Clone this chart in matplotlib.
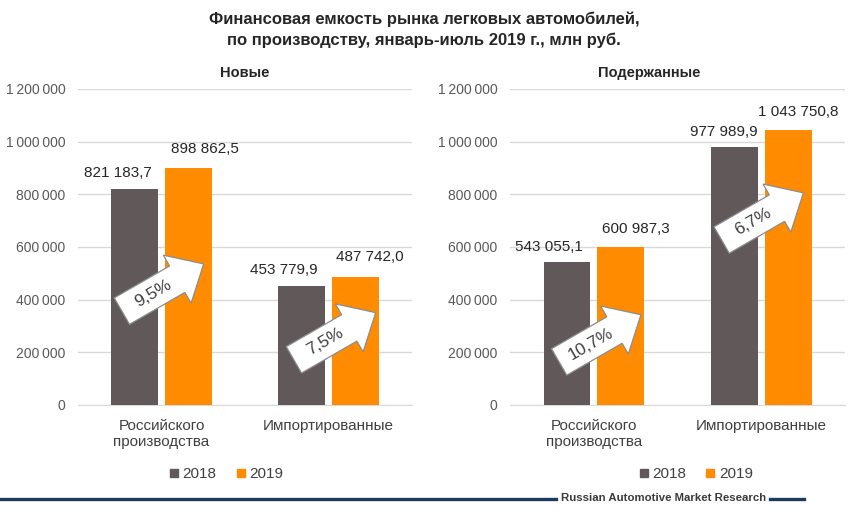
import matplotlib
matplotlib.use("Agg")
import matplotlib.pyplot as plt
import numpy as np
from matplotlib.transforms import Affine2D, ScaledTranslation
from matplotlib.patches import Polygon
from matplotlib.ticker import FuncFormatter
from matplotlib.lines import Line2D

plt.rcParams['font.family'] = ['Liberation Sans', 'DejaVu Sans']

# ---------------- data ----------------
title = "Финансовая емкость рынка легковых автомобилей,\nпо производству, январь-июль 2019 г., млн руб."
panels = ["Новые", "Подержанные"]
categories = ["Российского\nпроизводства", "Импортированные"]
series = ["2018", "2019"]
new_2018 = [821183.7, 453779.9]
new_2019 = [898862.5, 487742.0]
used_2018 = [543055.1, 977989.9]
used_2019 = [600987.3, 1043750.8]
new_growth = ["9,5%", "7,5%"]
used_growth = ["10,7%", "6,7%"]
yticks = [0, 200000, 400000, 600000, 800000, 1000000, 1200000]
footer = "Russian Automotive Market Research"

# ---------------- style ----------------
C18 = "#605859"
C19 = "#FF8C00"
TXT = "#404040"
GRID = "#d9d9d9"

W, H = 850, 509
fig = plt.figure(figsize=(W / 100, H / 100), dpi=100)

def fx(px):
    return px / W

def fy(py):
    return 1 - py / H

def fmt_num(v):
    return f"{v:,.1f}".replace(",", " ").replace(".", ",")

def fmt_tick(v, pos):
    return f"{int(v):,}".replace(",", "\u2009")

# value-label offsets (x in category units, y in points)
new_lbl_dx = [[-0.10, -0.11], [0.10, 0.085]]
new_lbl_dy = [11, 14]
used_lbl_dx = [[-0.11, -0.065], [0.09, 0.06]]
used_lbl_dy = [11, 13]

# arrow anchor positions (data coords)
new_arrow_pos = [(-0.05, 425000), (0.98, 240000)]
used_arrow_pos = [(-0.02, 232000), (0.95, 695000)]

def arrow(ax, x, y, label, angle=30):
    # block arrow shape in points, centred near the text
    tail, hb, tip = -28, 18, 40
    sh, hh = 11, 20
    pts = np.array([[tail, -sh], [hb, -sh], [hb, -hh], [tip, 0],
                    [hb, hh], [hb, sh], [tail, sh]])
    tr = (Affine2D().translate(2, 0).rotate_deg(angle).scale(fig.dpi / 72.0)
          + ScaledTranslation(x, y, ax.transData))
    poly = Polygon(pts, closed=True, transform=tr, facecolor="white",
                   edgecolor="#8c8c8c", lw=0.9, zorder=5, clip_on=False)
    ax.add_artist(poly)
    ax.text(x, y, label, rotation=angle, rotation_mode="anchor",
            ha="center", va="center", fontsize=12.5, color=TXT, zorder=6)

def make_panel(rect, v18, v19, lbl_dx, lbl_dy, growth, apos, leg_x):
    ax = fig.add_axes(rect)
    x = np.arange(len(categories))
    bw = 0.28
    off = 0.16
    ax.bar(x - off, v18, bw, color=C18, zorder=3, label=series[0])
    ax.bar(x + off, v19, bw, color=C19, zorder=3, label=series[1])
    ax.set_xlim(-0.5, 1.5)
    ax.set_ylim(0, 1200000)
    ax.set_yticks(yticks)
    ax.yaxis.set_major_formatter(FuncFormatter(fmt_tick))
    ax.grid(axis="y", color=GRID, lw=1, zorder=0)
    for s in ["top", "right", "left"]:
        ax.spines[s].set_visible(False)
    ax.spines["bottom"].set_color(GRID)
    ax.tick_params(axis="y", length=0, pad=9, labelsize=10, labelcolor="#595959")
    ax.tick_params(axis="x", length=0, pad=10, labelsize=11, labelcolor=TXT)
    ax.set_xticks(x)
    ax.set_xticklabels(categories)
    for i in range(len(categories)):
        ax.annotate(fmt_num(v18[i]), (x[i] - off + lbl_dx[0][i], v18[i]),
                    xytext=(0, lbl_dy[0]), textcoords="offset points",
                    ha="center", va="center", fontsize=11, color="#262626")
        ax.annotate(fmt_num(v19[i]), (x[i] + off + lbl_dx[1][i], v19[i]),
                    xytext=(0, lbl_dy[1]), textcoords="offset points",
                    ha="center", va="center", fontsize=11, color="#262626")
    for (ax_x, ax_y), g in zip(apos, growth):
        arrow(ax, ax_x, ax_y, g)
    handles = [Line2D([], [], marker="s", ls="", color=C18, markersize=6),
               Line2D([], [], marker="s", ls="", color=C19, markersize=6)]
    ax.legend(handles, series, loc="center",
              bbox_to_anchor=(leg_x, (fy(474) - rect[1]) / rect[3]),
              bbox_transform=ax.transAxes, ncol=2, frameon=False, fontsize=11,
              handlelength=0.6, handletextpad=0.25, columnspacing=1.3,
              labelcolor=TXT)
    return ax

ax_top, ax_bot = 89, 405
rect_l = [fx(78), fy(ax_bot), fx(412) - fx(78), fy(ax_top) - fy(ax_bot)]
rect_r = [fx(510), fy(ax_bot), fx(845) - fx(510), fy(ax_top) - fy(ax_bot)]
make_panel(rect_l, new_2018, new_2019, new_lbl_dx, new_lbl_dy,
           new_growth, new_arrow_pos, 0.445)
make_panel(rect_r, used_2018, used_2019, used_lbl_dx, used_lbl_dy,
           used_growth, used_arrow_pos, 0.555)

# titles
fig.text(fx(424), fy(30), title, ha="center", va="center", fontsize=12,
         fontweight="bold", color="#262626", linespacing=1.45)
fig.text(fx(245), fy(73), panels[0], ha="center", va="center", fontsize=10.5,
         fontweight="bold", color="#262626")
fig.text(fx(649), fy(73), panels[1], ha="center", va="center", fontsize=10.5,
         fontweight="bold", color="#262626")

# footer
NAVY = "#1c3a5a"
fig.add_artist(Line2D([0, fx(556)], [fy(499), fy(499)], color=NAVY, lw=2.4,
                      transform=fig.transFigure))
fig.add_artist(Line2D([fx(770), fx(804)], [fy(499), fy(499)], color=NAVY, lw=2.4,
                      transform=fig.transFigure))
fig.text(fx(664), fy(498), footer, ha="center", va="center", fontsize=8.2,
         fontweight="bold", color="#3a3a3a")

fig.savefig("out.png", dpi=100)
